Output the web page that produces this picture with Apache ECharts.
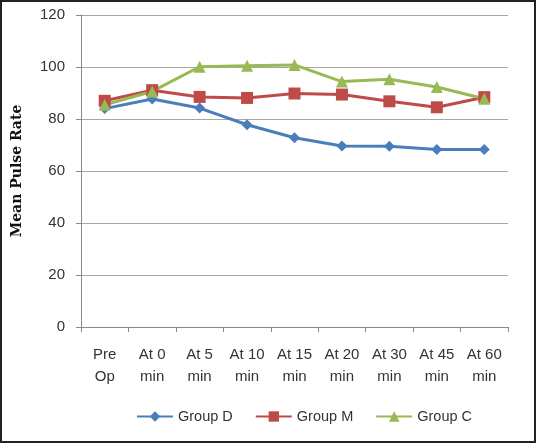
<!DOCTYPE html>
<html><head><meta charset="utf-8">
<script src="https://cdn.jsdelivr.net/npm/echarts@6/dist/echarts.min.js"></script>
<style>html,body{margin:0;padding:0;background:#fff}
#c{position:absolute;left:0;top:0;width:532px;height:439px;border:2px solid #222}</style>
</head><body><div id="c"></div>
<script>
const categories = ['Pre\nOp','At 0\nmin','At 5\nmin','At 10\nmin','At 15\nmin','At 20\nmin','At 30\nmin','At 45\nmin','At 60\nmin'];
const groupD = [84, 87.7, 84.2, 77.8, 72.8, 69.6, 69.5, 68.3, 68.3];
const groupM = [87, 91.1, 88.5, 88.1, 89.8, 89.4, 86.8, 84.5, 88.4];
const groupC = [85.5, 90.6, 100.1, 100.5, 100.8, 94.4, 95.3, 92.3, 87.8];
const yTicks = {min:0, max:120, interval:20};

const chart = echarts.init(document.getElementById('c'));
const font = 'Liberation Sans';
function s(name, data, color, symbol, size){
  return {name, type:'line', data, symbol, symbolSize:size, smooth:false,
    lineStyle:{color, width:3}, itemStyle:{color}, color};
}
chart.setOption({
  animation:false,
  grid:{left:76, right:26, top:13, bottom:114},
  legend:{bottom:12, left:129, itemGap:22, itemWidth:36, itemHeight:13,
    textStyle:{fontFamily:font, fontSize:14.5, color:'#333'},
    data:['Group D','Group M','Group C']},
  xAxis:{type:'category', data:categories, boundaryGap:true,
    axisLine:{lineStyle:{color:'#8a8a8a'}},
    axisTick:{show:true, alignWithLabel:false, length:5, lineStyle:{color:'#8a8a8a'}},
    axisLabel:{fontFamily:font, fontSize:15, color:'#333', margin:17, lineHeight:22}},
  yAxis:{type:'value', min:yTicks.min, max:yTicks.max, interval:yTicks.interval,
    name:'Mean Pulse Rate', nameLocation:'middle', nameGap:57, nameRotate:90,
    nameTextStyle:{fontFamily:'DejaVu Serif', fontWeight:'bold', fontSize:14, color:'#111'},
    axisLine:{show:true, lineStyle:{color:'#8a8a8a'}},
    axisTick:{show:true, length:5, lineStyle:{color:'#8a8a8a'}},
    axisLabel:{fontFamily:font, fontSize:15, color:'#333', margin:16},
    splitLine:{lineStyle:{color:'#a6a6a6', width:1}}},
  series:[
    s('Group D', groupD, '#4a7ebb', 'diamond', 11),
    s('Group M', groupM, '#be4b48', 'rect', 12),
    s('Group C', groupC, '#98b954', 'triangle', 12)
  ]
});
</script></body></html>
